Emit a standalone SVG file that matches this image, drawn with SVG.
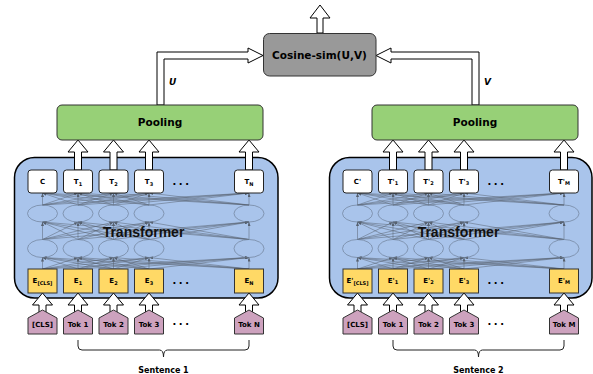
<svg xmlns="http://www.w3.org/2000/svg" xmlns:xlink="http://www.w3.org/1999/xlink" width="593" height="374" viewBox="0 0 593 374">
  <style>
    .t { font-family: "DejaVu Sans", Verdana, sans-serif; font-weight: bold; fill: #000; text-anchor: middle; }
    .sm { font-size: 7px; }
    .sub { font-size: 5px; }
    .mid { font-size: 10.5px; }
    .big { font-family: "Liberation Sans", Arial, sans-serif; font-weight: bold; font-size: 14px; text-anchor: middle; fill: #111; }
    .lab { font-size: 9px; font-style: italic; text-anchor: start; }
    .cap { font-size: 8px; }
    .dots { font-size: 10px; letter-spacing: 2.5px; }
    .frame { fill: #A9C4EB; stroke: #000; stroke-width: 1.5; }
    .out { fill: #fff; stroke: #222; stroke-width: 1; }
    .emb { fill: #FFD966; stroke: #333; stroke-width: 1; }
    .tok { fill: #CDA2BE; stroke: #333; stroke-width: 1; }
    .cell { fill: none; stroke: #6f7f98; stroke-width: 0.7; }
    .pool { fill: #97D077; stroke: #333; stroke-width: 1; }
    .cos { fill: #999999; stroke: #333; stroke-width: 1; }
    .blk { fill: #fff; stroke: #000; stroke-width: 1; }
    .brace { fill: none; stroke: #222; stroke-width: 1; }
    .mesh line { stroke: #56606e; stroke-width: 0.5; marker-end: url(#tip); }
  </style>
  <defs>
    <marker id="tip" markerUnits="userSpaceOnUse" markerWidth="4" markerHeight="3" refX="4" refY="1.5" orient="auto">
      <path d="M0,0 L4,1.5 L0,3 z" fill="#56606e"/>
    </marker>
    <!-- fully connected attention mesh between the layers of one encoder -->
    <g id="mesh" class="mesh">
      <!-- embeddings to lower hidden layer -->
      <line x1="42.5" y1="269" x2="42.5" y2="257.5"/><line x1="42.5" y1="269" x2="78" y2="257.5"/><line x1="42.5" y1="269" x2="113.5" y2="257.5"/><line x1="42.5" y1="269" x2="149" y2="257.5"/><line x1="42.5" y1="269" x2="249" y2="257.5"/>
      <line x1="78" y1="269" x2="42.5" y2="257.5"/><line x1="78" y1="269" x2="78" y2="257.5"/><line x1="78" y1="269" x2="113.5" y2="257.5"/><line x1="78" y1="269" x2="149" y2="257.5"/><line x1="78" y1="269" x2="249" y2="257.5"/>
      <line x1="113.5" y1="269" x2="42.5" y2="257.5"/><line x1="113.5" y1="269" x2="78" y2="257.5"/><line x1="113.5" y1="269" x2="113.5" y2="257.5"/><line x1="113.5" y1="269" x2="149" y2="257.5"/><line x1="113.5" y1="269" x2="249" y2="257.5"/>
      <line x1="149" y1="269" x2="42.5" y2="257.5"/><line x1="149" y1="269" x2="78" y2="257.5"/><line x1="149" y1="269" x2="113.5" y2="257.5"/><line x1="149" y1="269" x2="149" y2="257.5"/><line x1="149" y1="269" x2="249" y2="257.5"/>
      <line x1="249" y1="269" x2="42.5" y2="257.5"/><line x1="249" y1="269" x2="78" y2="257.5"/><line x1="249" y1="269" x2="113.5" y2="257.5"/><line x1="249" y1="269" x2="149" y2="257.5"/><line x1="249" y1="269" x2="249" y2="257.5"/>
      <!-- lower hidden layer to upper hidden layer -->
      <line x1="42.5" y1="239.5" x2="42.5" y2="222"/><line x1="42.5" y1="239.5" x2="78" y2="222"/><line x1="42.5" y1="239.5" x2="113.5" y2="222"/><line x1="42.5" y1="239.5" x2="149" y2="222"/><line x1="42.5" y1="239.5" x2="249" y2="222"/>
      <line x1="78" y1="239.5" x2="42.5" y2="222"/><line x1="78" y1="239.5" x2="78" y2="222"/><line x1="78" y1="239.5" x2="113.5" y2="222"/><line x1="78" y1="239.5" x2="149" y2="222"/><line x1="78" y1="239.5" x2="249" y2="222"/>
      <line x1="113.5" y1="239.5" x2="42.5" y2="222"/><line x1="113.5" y1="239.5" x2="78" y2="222"/><line x1="113.5" y1="239.5" x2="113.5" y2="222"/><line x1="113.5" y1="239.5" x2="149" y2="222"/><line x1="113.5" y1="239.5" x2="249" y2="222"/>
      <line x1="149" y1="239.5" x2="42.5" y2="222"/><line x1="149" y1="239.5" x2="78" y2="222"/><line x1="149" y1="239.5" x2="113.5" y2="222"/><line x1="149" y1="239.5" x2="149" y2="222"/><line x1="149" y1="239.5" x2="249" y2="222"/>
      <line x1="249" y1="239.5" x2="42.5" y2="222"/><line x1="249" y1="239.5" x2="78" y2="222"/><line x1="249" y1="239.5" x2="113.5" y2="222"/><line x1="249" y1="239.5" x2="149" y2="222"/><line x1="249" y1="239.5" x2="249" y2="222"/>
      <!-- upper hidden layer to outputs -->
      <line x1="42.5" y1="205" x2="42.5" y2="193"/><line x1="42.5" y1="205" x2="78" y2="193"/><line x1="42.5" y1="205" x2="113.5" y2="193"/><line x1="42.5" y1="205" x2="149" y2="193"/><line x1="42.5" y1="205" x2="249" y2="193"/>
      <line x1="78" y1="205" x2="42.5" y2="193"/><line x1="78" y1="205" x2="78" y2="193"/><line x1="78" y1="205" x2="113.5" y2="193"/><line x1="78" y1="205" x2="149" y2="193"/><line x1="78" y1="205" x2="249" y2="193"/>
      <line x1="113.5" y1="205" x2="42.5" y2="193"/><line x1="113.5" y1="205" x2="78" y2="193"/><line x1="113.5" y1="205" x2="113.5" y2="193"/><line x1="113.5" y1="205" x2="149" y2="193"/><line x1="113.5" y1="205" x2="249" y2="193"/>
      <line x1="149" y1="205" x2="42.5" y2="193"/><line x1="149" y1="205" x2="78" y2="193"/><line x1="149" y1="205" x2="113.5" y2="193"/><line x1="149" y1="205" x2="149" y2="193"/><line x1="149" y1="205" x2="249" y2="193"/>
      <line x1="249" y1="205" x2="42.5" y2="193"/><line x1="249" y1="205" x2="78" y2="193"/><line x1="249" y1="205" x2="113.5" y2="193"/><line x1="249" y1="205" x2="149" y2="193"/><line x1="249" y1="205" x2="249" y2="193"/>
    </g>
    <!-- hidden-state cells of one encoder -->
    <g id="cells" class="cell">
      <ellipse cx="42.5" cy="213.5" rx="15" ry="8.5"/><ellipse cx="78" cy="213.5" rx="15" ry="8.5"/><ellipse cx="113.5" cy="213.5" rx="15" ry="8.5"/><ellipse cx="149" cy="213.5" rx="15" ry="8.5"/><ellipse cx="249" cy="213.5" rx="15" ry="8.5"/>
      <ellipse cx="42.5" cy="248.5" rx="15" ry="9"/><ellipse cx="78" cy="248.5" rx="15" ry="9"/><ellipse cx="113.5" cy="248.5" rx="15" ry="9"/><ellipse cx="149" cy="248.5" rx="15" ry="9"/><ellipse cx="249" cy="248.5" rx="15" ry="9"/>
    </g>
    <!-- upward block arrows -->
    <polygon id="upT" points="-3.5,30 -3.5,12 -10,12 0,0 10,12 3.5,12 3.5,30"/>
    <polygon id="upE" points="-3.5,22 -3.5,12 -10,12 0,0 10,12 3.5,12 3.5,22"/>
    <!-- token shape -->
    <polygon id="tokShape" points="-14.5,8 0,0 14.5,8 14.5,24 -14.5,24"/>
  </defs>

  <!-- encoder frames -->
  <g id="encoder1"><rect class="frame" x="14.5" y="157.5" width="263.5" height="140.5" rx="20"/></g>
  <g id="encoder2"><rect class="frame" x="329.5" y="157.5" width="262.5" height="140.5" rx="20"/></g>

  <!-- connectors -->
  <g id="connectors">
    <use xlink:href="#mesh"/>
    <use xlink:href="#mesh" transform="translate(315,0)"/>
    <use xlink:href="#cells"/>
    <use xlink:href="#cells" transform="translate(315,0)"/>
    <g class="blk">
      <!-- outputs to pooling -->
      <use xlink:href="#upT" x="78" y="140"/><use xlink:href="#upT" x="113.5" y="140"/><use xlink:href="#upT" x="149" y="140"/><use xlink:href="#upT" x="249" y="140"/>
      <use xlink:href="#upT" x="393" y="140"/><use xlink:href="#upT" x="428.5" y="140"/><use xlink:href="#upT" x="464" y="140"/><use xlink:href="#upT" x="564" y="140"/>
      <!-- tokens to embeddings -->
      <use xlink:href="#upE" x="42.5" y="293"/><use xlink:href="#upE" x="78" y="293"/><use xlink:href="#upE" x="113.5" y="293"/><use xlink:href="#upE" x="149" y="293"/><use xlink:href="#upE" x="249" y="293"/>
      <use xlink:href="#upE" x="357.5" y="293"/><use xlink:href="#upE" x="393" y="293"/><use xlink:href="#upE" x="428.5" y="293"/><use xlink:href="#upE" x="464" y="293"/><use xlink:href="#upE" x="564" y="293"/>
      <!-- pooled vectors to similarity -->
      <polygon points="157,105 157,52 248,52 248,48 263,55.5 248,63 248,59 164,59 164,105"/>
      <polygon points="479,105 479,52 391,52 391,48 376,55.5 391,63 391,59 472,59 472,105"/>
      <!-- similarity output -->
      <polygon points="317,33 317,18 310,18 320,5 330,18 323,18 323,33"/>
    </g>
    <path class="brace" d="M78,340 L78,346 Q78,350 82,350 L159.5,350 Q163.5,350 163.5,357 Q163.5,350 167.5,350 L245,350 Q249,350 249,346 L249,340"/>
    <path class="brace" d="M393,340 L393,346 Q393,350 397,350 L474.5,350 Q478.5,350 478.5,357 Q478.5,350 482.5,350 L560,350 Q564,350 564,346 L564,340"/>
  </g>

  <text class="big" x="143.5" y="237">Transformer</text>
  <text class="big" x="458.5" y="237">Transformer</text>

  <!-- output states, sentence 1 -->
  <g id="out1">
    <rect class="out" x="28" y="170" width="29" height="23" rx="3"/><text class="t sm" x="42.5" y="184">C</text>
    <rect class="out" x="63.5" y="170" width="29" height="23" rx="3"/><text class="t sm" x="78" y="184">T<tspan class="sub" dy="1.5">1</tspan></text>
    <rect class="out" x="99" y="170" width="29" height="23" rx="3"/><text class="t sm" x="113.5" y="184">T<tspan class="sub" dy="1.5">2</tspan></text>
    <rect class="out" x="134.5" y="170" width="29" height="23" rx="3"/><text class="t sm" x="149" y="184">T<tspan class="sub" dy="1.5">3</tspan></text>
    <text class="t dots" x="182" y="185">...</text>
    <rect class="out" x="234.5" y="170" width="29" height="23" rx="3"/><text class="t sm" x="249" y="184">T<tspan class="sub" dy="1.5">N</tspan></text>
  </g>
  <!-- output states, sentence 2 -->
  <g id="out2">
    <rect class="out" x="343" y="170" width="29" height="23" rx="3"/><text class="t sm" x="357.5" y="184">C'</text>
    <rect class="out" x="378.5" y="170" width="29" height="23" rx="3"/><text class="t sm" x="393" y="184">T'<tspan class="sub" dy="1">1</tspan></text>
    <rect class="out" x="414" y="170" width="29" height="23" rx="3"/><text class="t sm" x="428.5" y="184">T'<tspan class="sub" dy="1">2</tspan></text>
    <rect class="out" x="449.5" y="170" width="29" height="23" rx="3"/><text class="t sm" x="464" y="184">T'<tspan class="sub" dy="1">3</tspan></text>
    <text class="t dots" x="497" y="185">...</text>
    <rect class="out" x="549.5" y="170" width="29" height="23" rx="3"/><text class="t sm" x="564" y="184">T'<tspan class="sub" dy="0.5">M</tspan></text>
  </g>

  <!-- embeddings, sentence 1 -->
  <g id="emb1">
    <rect class="emb" x="28" y="269" width="29" height="24"/><text class="t sm" x="42.5" y="283">E<tspan class="sub" dy="1.5">[CLS]</tspan></text>
    <rect class="emb" x="63.5" y="269" width="29" height="24"/><text class="t sm" x="78" y="283">E<tspan class="sub" dy="1.5">1</tspan></text>
    <rect class="emb" x="99" y="269" width="29" height="24"/><text class="t sm" x="113.5" y="283">E<tspan class="sub" dy="1.5">2</tspan></text>
    <rect class="emb" x="134.5" y="269" width="29" height="24"/><text class="t sm" x="149" y="283">E<tspan class="sub" dy="1.5">3</tspan></text>
    <text class="t dots" x="182" y="284">...</text>
    <rect class="emb" x="234.5" y="269" width="29" height="24"/><text class="t sm" x="249" y="283">E<tspan class="sub" dy="1.5">N</tspan></text>
  </g>
  <!-- embeddings, sentence 2 -->
  <g id="emb2">
    <rect class="emb" x="343" y="269" width="29" height="24"/><text class="t sm" x="357.5" y="283">E'<tspan class="sub" dy="1.5">[CLS]</tspan></text>
    <rect class="emb" x="378.5" y="269" width="29" height="24"/><text class="t sm" x="393" y="283">E'<tspan class="sub" dy="1">1</tspan></text>
    <rect class="emb" x="414" y="269" width="29" height="24"/><text class="t sm" x="428.5" y="283">E'<tspan class="sub" dy="1">2</tspan></text>
    <rect class="emb" x="449.5" y="269" width="29" height="24"/><text class="t sm" x="464" y="283">E'<tspan class="sub" dy="1">3</tspan></text>
    <text class="t dots" x="497" y="284">...</text>
    <rect class="emb" x="549.5" y="269" width="29" height="24"/><text class="t sm" x="564" y="283">E'<tspan class="sub" dy="0.5">M</tspan></text>
  </g>

  <!-- input tokens, sentence 1 -->
  <g id="tok1" class="tok">
    <use xlink:href="#tokShape" x="42.5" y="310"/><use xlink:href="#tokShape" x="78" y="310"/><use xlink:href="#tokShape" x="113.5" y="310"/><use xlink:href="#tokShape" x="149" y="310"/><use xlink:href="#tokShape" x="249" y="310"/>
  </g>
  <g id="tok1-labels">
    <text class="t sm" x="42.5" y="326.5">[CLS]</text>
    <text class="t sm" x="78" y="326.5">Tok 1</text>
    <text class="t sm" x="113.5" y="326.5">Tok 2</text>
    <text class="t sm" x="149" y="326.5">Tok 3</text>
    <text class="t dots" x="182" y="325">...</text>
    <text class="t sm" x="249" y="326.5">Tok N</text>
  </g>
  <!-- input tokens, sentence 2 -->
  <g id="tok2" class="tok">
    <use xlink:href="#tokShape" x="357.5" y="310"/><use xlink:href="#tokShape" x="393" y="310"/><use xlink:href="#tokShape" x="428.5" y="310"/><use xlink:href="#tokShape" x="464" y="310"/><use xlink:href="#tokShape" x="564" y="310"/>
  </g>
  <g id="tok2-labels">
    <text class="t sm" x="357.5" y="326.5">[CLS]</text>
    <text class="t sm" x="393" y="326.5">Tok 1</text>
    <text class="t sm" x="428.5" y="326.5">Tok 2</text>
    <text class="t sm" x="464" y="326.5">Tok 3</text>
    <text class="t dots" x="497" y="325">...</text>
    <text class="t sm" x="564" y="326.5">Tok M</text>
  </g>

  <!-- pooling layers -->
  <g id="pool1"><rect class="pool" x="57" y="105" width="206" height="35" rx="5"/><text class="t mid" x="160" y="126">Pooling</text></g>
  <g id="pool2"><rect class="pool" x="372" y="105" width="206" height="35" rx="5"/><text class="t mid" x="475" y="126">Pooling</text></g>

  <!-- similarity -->
  <g id="cosine"><rect class="cos" x="263.5" y="33.5" width="112.5" height="42.5" rx="6"/><text class="t mid" x="319.5" y="58.5">Cosine-sim(U,V)</text></g>

  <text class="t lab" x="169" y="85">U</text>
  <text class="t lab" x="484" y="85">V</text>

  <text class="t cap" x="163.5" y="373">Sentence 1</text>
  <text class="t cap" x="478.5" y="373">Sentence 2</text>
</svg>
